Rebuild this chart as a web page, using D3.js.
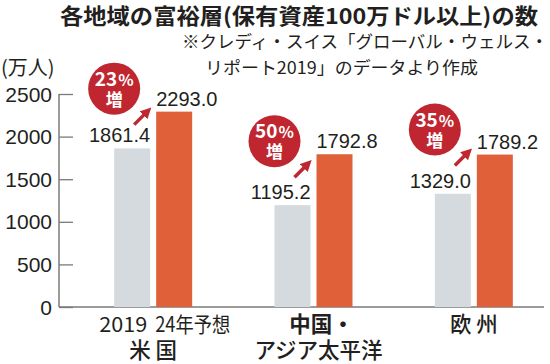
<!DOCTYPE html>
<html><head><meta charset="utf-8">
<script src="https://cdn.jsdelivr.net/npm/d3@7"></script>
<style>body{margin:0;background:#fff}svg{display:block}</style>
</head><body>
<svg id="c" width="550" height="364"></svg>
<script>
const regions = ["米国", "中国・アジア太平洋", "欧州"];
const seriesKeys = ["2019", "24年予想"];
const values2019 = [1861.4, 1195.2, 1329.0];
const values2024 = [2293.0, 1792.8, 1789.2];
const growthLabels = ["23%", "50%", "35%"];
const yTicks = [0, 500, 1000, 1500, 2000, 2500];

const annoNudge = [-4, 6, -6];
const C = {gray:"#d4dade", orange:"#e0603a", red:"#bf2630", text:"#231f20", axis:"#7a7a7a"};
const FONT = "'Liberation Sans', Arial, sans-serif";
const JP = "'Noto Sans CJK JP', sans-serif";

const svg = d3.select("#c");
const y = d3.scaleLinear().domain([0, 2500]).range([307, 94]);
const x0 = d3.scaleBand().domain(regions).range([73, 554]).padding(0);
const x1 = d3.scaleBand().domain(seriesKeys).range([-39, 39]).paddingInner(6/42).paddingOuter(0);

// title
svg.append("text").attr("x", 60).attr("y", 24).attr("font-family", JP).attr("font-weight", 700)
  .attr("font-size", 21.5).attr("fill", C.text).attr("textLength", 478).attr("lengthAdjust", "spacingAndGlyphs")
  .text("各地域の富裕層(保有資産100万ドル以上)の数");
svg.append("text").attr("x", 182).attr("y", 48).attr("font-family", JP).attr("font-size", 17.5)
  .attr("fill", C.text).attr("textLength", 366).attr("lengthAdjust", "spacingAndGlyphs")
  .text("※クレディ・スイス「グローバル・ウェルス・");
svg.append("text").attr("x", 205).attr("y", 74).attr("font-family", JP).attr("font-size", 17.5)
  .attr("fill", C.text).attr("textLength", 273).attr("lengthAdjust", "spacingAndGlyphs")
  .text("リポート2019」のデータより作成");
svg.append("text").attr("x", 1).attr("y", 75).attr("font-family", JP).attr("font-size", 20)
  .attr("fill", C.text).text("(万人)");

// axis
const yAxis = d3.axisRight(y).tickValues(yTicks).tickSize(14).tickFormat("");
const ag = svg.append("g").attr("transform", "translate(59,0)").call(yAxis);
ag.select(".domain").remove();
ag.selectAll(".tick line").attr("stroke", C.axis).attr("stroke-width", 1.3);
ag.append("line").attr("x1", 0).attr("x2", 0).attr("y1", y(2500)).attr("y2", y(0))
  .attr("stroke", C.axis).attr("stroke-width", 1.5);
svg.append("line").attr("x1", 59).attr("x2", 544).attr("y1", y(0)).attr("y2", y(0))
  .attr("stroke", C.axis).attr("stroke-width", 1.5);
svg.selectAll("text.tick").data(yTicks).join("text").attr("class", "tick")
  .attr("x", 52).attr("y", d => y(d) + 7.5).attr("text-anchor", "end")
  .attr("font-family", FONT).attr("font-size", 21).attr("fill", C.text).text(d => d);

// bars
const data = regions.map((r, i) => ({r, i, a: values2019[i], b: values2024[i]}));
const g = svg.selectAll("g.grp").data(data).join("g").attr("class", "grp")
  .attr("transform", d => `translate(${x0(d.r) + x0.bandwidth()/2},0)`);
g.append("rect").attr("x", x1("2019")).attr("width", x1.bandwidth())
  .attr("y", d => y(d.a)).attr("height", d => y(0) - y(d.a)).attr("fill", C.gray);
g.append("rect").attr("x", x1("24年予想")).attr("width", x1.bandwidth())
  .attr("y", d => y(d.b)).attr("height", d => y(0) - y(d.b)).attr("fill", C.orange);
g.append("text").attr("x", x1("2019") + x1.bandwidth()).attr("y", d => y(d.a) - 6)
  .attr("text-anchor", "end").attr("font-family", FONT).attr("font-size", 20).attr("fill", C.text)
  .text(d => d.a.toFixed(1));
g.append("text").attr("x", x1("24年予想")).attr("y", d => y(d.b) - 6)
  .attr("text-anchor", "start").attr("font-family", FONT).attr("font-size", 20).attr("fill", C.text)
  .text(d => d.b.toFixed(1));

// annotations
svg.append("defs").append("marker").attr("id", "ah").attr("viewBox", "0 0 10 10")
  .attr("refX", 6).attr("refY", 5).attr("markerWidth", 3.2).attr("markerHeight", 3.2)
  .attr("orient", "auto").attr("markerUnits", "strokeWidth")
  .append("path").attr("d", "M0,0 L10,5 L0,10 z").attr("fill", C.red);
g.each(function(d) {
  const s = d3.select(this);
  const ex = x1("24年予想") - 5, ey = y(d.b) + annoNudge[d.i];
  s.append("line").attr("x1", ex - 17).attr("y1", ey + 17).attr("x2", ex - 3).attr("y2", ey + 3)
    .attr("stroke", C.red).attr("stroke-width", 3.5).attr("marker-end", "url(#ah)");
  const cx = ex - 37, cy = ey - 19;
  s.append("circle").attr("cx", cx).attr("cy", cy).attr("r", 26).attr("fill", C.red);
  const t = s.append("text").attr("x", cx).attr("y", cy - 3).attr("text-anchor", "middle")
    .attr("font-family", JP).attr("font-weight", 700).attr("fill", "#fff");
  t.append("tspan").attr("font-size", 19).text(growthLabels[d.i].replace("%", ""));
  t.append("tspan").attr("font-size", 16).attr("dx", 1).text("%");
  s.append("text").attr("x", cx).attr("y", cy + 17).attr("text-anchor", "middle")
    .attr("font-family", JP).attr("font-weight", 700).attr("font-size", 17).attr("fill", "#fff").text("増");
});

// category labels
const g0 = g.filter(d => d.i === 0);
g0.append("text").attr("x", x1("2019") + x1.bandwidth() - 3).attr("y", 332).attr("text-anchor", "end")
  .attr("font-family", JP).attr("font-size", 21).attr("fill", C.text)
  .attr("textLength", 48).attr("lengthAdjust", "spacingAndGlyphs").text("2019");
g0.append("text").attr("x", x1("24年予想") - 1).attr("y", 332).attr("text-anchor", "start")
  .attr("font-family", JP).attr("font-size", 21).attr("fill", C.text)
  .attr("textLength", 75).attr("lengthAdjust", "spacingAndGlyphs").text("24年予想");
const nameLines = [["", "米 国"], ["中国・", "アジア太平洋"], ["欧 州", ""]];
g.each(function(d) {
  const s = d3.select(this);
  const [l1, l2] = nameLines[d.i];
  if (l1) s.append("text").attr("x", d.i === 1 ? 8 : 0).attr("y", 332).attr("text-anchor", "middle")
    .attr("font-family", JP).attr("font-weight", d.i === 1 ? 700 : 500).attr("font-size", 21.5)
    .attr("fill", C.text).text(l1);
  if (l2) s.append("text").attr("x", d.i === 1 ? 5 : 0).attr("y", 358).attr("text-anchor", "middle")
    .attr("font-family", JP).attr("font-weight", 500).attr("font-size", 21.5)
    .attr("fill", C.text).text(l2);
});
</script>
</body></html>
